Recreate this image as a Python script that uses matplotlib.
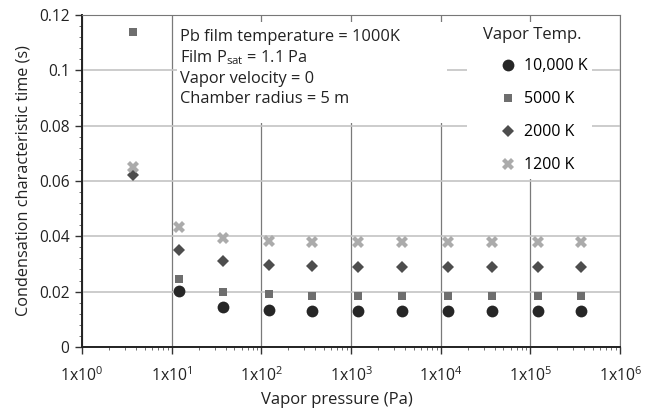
import numpy as np
import matplotlib
matplotlib.use("Agg")
import matplotlib.pyplot as plt
from matplotlib.patches import Rectangle
from matplotlib.ticker import LogLocator, MultipleLocator, NullFormatter

plt.rcParams['font.family'] = ['Open Sans', 'DejaVu Sans']
plt.rcParams['mathtext.default'] = 'regular'

# Vapor pressure (Pa)
pressure = [3.7, 12, 37, 120, 370, 1200, 3700, 12000, 37000, 120000, 370000]

# condensation characteristic time (s) for each vapor temperature
t_10000 = [np.nan, 0.0202, 0.0145, 0.0134, 0.0130, 0.0130, 0.0130, 0.0130, 0.0130, 0.0130, 0.0130]
t_5000 = [0.1137, 0.0247, 0.0199, 0.0190, 0.0184, 0.0184, 0.0184, 0.0184, 0.0184, 0.0184, 0.0184]
t_2000 = [0.0622, 0.0350, 0.0310, 0.0295, 0.0292, 0.0290, 0.0290, 0.0290, 0.0290, 0.0290, 0.0290]
t_1200 = [0.0652, 0.0433, 0.0393, 0.0384, 0.0381, 0.0380, 0.0380, 0.0380, 0.0380, 0.0380, 0.0380]

series = [
    ("10,000 K", t_10000, 'o', '#262626', 8.5),
    ("5000 K", t_5000, 's', '#6e6e6e', 6),
    ("2000 K", t_2000, 'D', '#4d4d4d', 6),
    ("1200 K", t_1200, 'X', '#ababab', 8),
]

x_ticks = [1e0, 1e1, 1e2, 1e3, 1e4, 1e5, 1e6]
x_labels = ['1x10$^{%d}$' % i for i in range(7)]
y_ticks = [0, 0.02, 0.04, 0.06, 0.08, 0.1, 0.12]
y_labels = ['0', '0.02', '0.04', '0.06', '0.08', '0.1', '0.12']

fig = plt.figure(figsize=(6.46, 4.15), dpi=100)
ax = fig.add_axes([0.127, 0.164, 0.833, 0.800])
ax.set_axisbelow(True)

for label, vals, mk, col, ms in series:
    ax.plot(pressure, vals, linestyle='none', marker=mk, color=col,
            markersize=ms, markeredgewidth=0, label=label, zorder=3)

ax.set_xscale('log')
ax.set_xlim(1, 1e6)
ax.set_ylim(0, 0.12)
ax.set_xticks(x_ticks)
ax.set_xticklabels(x_labels, fontsize=11.3, color='#222222')
ax.xaxis.set_minor_locator(LogLocator(base=10, subs=np.arange(2, 10)))
ax.xaxis.set_minor_formatter(NullFormatter())
ax.set_yticks(y_ticks)
ax.set_yticklabels(y_labels, fontsize=11.2, color='#222222')
ax.yaxis.set_minor_locator(MultipleLocator(0.004))

ax.tick_params(axis='both', which='major', direction='out', length=5, width=1, color='#333333', pad=4)
ax.tick_params(axis='both', which='minor', direction='out', length=2.5, width=0.6, color='#555555')
ax.tick_params(axis='x', which='major', pad=9)

ax.grid(True, axis='y', which='major', color='#c4c4c4', linewidth=1.2)
ax.grid(True, axis='x', which='major', color='#7a7a7a', linewidth=0.9)

# white areas behind the note and the legend, as in the original figure
ax.add_patch(Rectangle((0.176, 0.675), 0.502, 0.304, transform=ax.transAxes,
                       facecolor='white', edgecolor='none', zorder=1))
ax.add_patch(Rectangle((0.716, 0.505), 0.232, 0.474, transform=ax.transAxes,
                       facecolor='white', edgecolor='none', zorder=1))

ax.spines['left'].set_color('#222222')
ax.spines['bottom'].set_color('#222222')
ax.spines['left'].set_linewidth(1.4)
ax.spines['bottom'].set_linewidth(1.4)
ax.spines['top'].set_color('#777777')
ax.spines['right'].set_color('#777777')
for s in ax.spines.values():
    s.set_zorder(4)

ax.set_xlabel('Vapor pressure (Pa)', fontsize=12, color='#222222')
ax.xaxis.set_label_coords(0.474, -0.135)
ax.set_ylabel('Condensation characteristic time (s)', fontsize=11.7, color='#222222', labelpad=5)

ax.text(0.182, 0.959,
        'Pb film temperature = 1000K\nFilm P$_{sat}$ = 1.1 Pa\nVapor velocity = 0\nChamber radius = 5 m',
        transform=ax.transAxes, ha='left', va='top', fontsize=11.8, color='#222222',
        linespacing=1.3, zorder=4)

ax.text(0.746, 0.94, 'Vapor Temp.', transform=ax.transAxes, ha='left', va='center',
        fontsize=12, color='#222222', zorder=5)

leg = ax.legend(loc='upper left', bbox_to_anchor=(0.77, 0.87),
                frameon=False, fontsize=11.5, handletextpad=0.35,
                handlelength=1.4, labelspacing=1.07, borderpad=0.0, borderaxespad=0,
                markerfirst=True)
leg.set_zorder(5)

fig.savefig('out.png', dpi=100)
